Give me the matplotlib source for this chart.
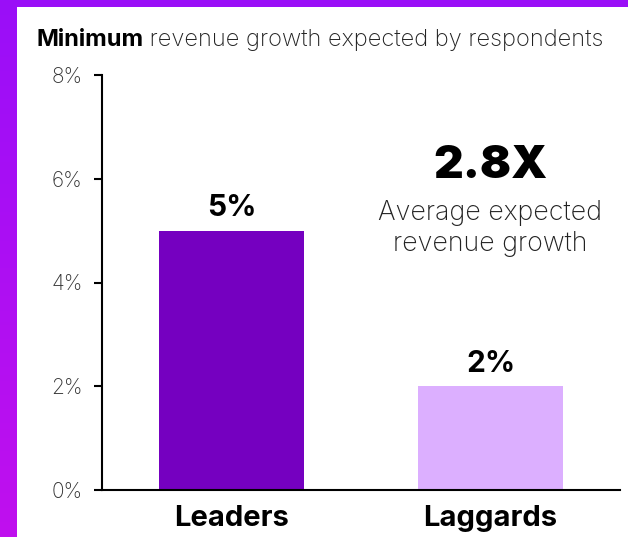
import numpy as np
import matplotlib.pyplot as plt
from matplotlib.patches import Rectangle
from matplotlib.colors import LinearSegmentedColormap

plt.rcParams["font.family"] = ["Inter", "DejaVu Sans"]

groups = ["Leaders", "Laggards"]
growth = [5, 2]
bar_colors = ["#7500C0", "#DCAFFF"]
y_ticks = [0, 2, 4, 6, 8]
multiplier = "2.8X"

W, H = 628, 537
fig = plt.figure(figsize=(W / 100, H / 100), dpi=100)

# purple frame behind the white card
bg = fig.add_axes([0, 0, 1, 1], zorder=-10)
bg.set_axis_off()
cmap = LinearSegmentedColormap.from_list("frame", ["#9A0EF8", "#C010EE"])
grad = np.linspace(0, 1, 256).reshape(-1, 1)
bg.imshow(grad, aspect="auto", cmap=cmap, extent=[0, 1, 0, 1])
bg.add_patch(Rectangle((17 / W, 0), 1, 1 - 7 / H, transform=bg.transAxes,
                       facecolor="white", edgecolor="none"))
bg.set_xlim(0, 1)
bg.set_ylim(0, 1)

ax = fig.add_axes([102 / W, 1 - 490 / H, (620 - 102) / W, (490 - 75) / H])
x = np.arange(len(groups))
bars = ax.bar(x, growth, width=0.56, color=bar_colors)
ax.set_xlim(-0.5, 1.5)
ax.set_ylim(0, 8)
ax.set_yticks(y_ticks)
ax.set_yticklabels([f"{t}%" for t in y_ticks], fontsize=15, color="#333333",
                   fontweight="light")
ax.set_xticks(x)
ax.set_xticklabels(groups, fontsize=21, fontweight="bold", color="black")
ax.tick_params(axis="y", length=6, width=1.5, pad=8)
ax.tick_params(axis="x", length=0, pad=11)
for side in ["top", "right"]:
    ax.spines[side].set_visible(False)
for side in ["left", "bottom"]:
    ax.spines[side].set_linewidth(1.5)
ax.patch.set_alpha(0)

for rect, val in zip(bars, growth):
    ax.annotate(f"{val}%", (rect.get_x() + rect.get_width() / 2, val),
                xytext=(0, 6), textcoords="offset points",
                ha="center", va="bottom", fontsize=21.5, fontweight="bold")

ax.text(1.0, 6.25, multiplier, ha="center", va="center",
        fontsize=33, fontweight="black")
ax.text(1.0, 5.04, "Average expected\nrevenue growth", ha="center", va="center",
        fontsize=19.3, color="#222222", linespacing=1.28, fontweight="light")

# title: bold lead word followed by regular text
renderer = fig.canvas.get_renderer()
lead = fig.text(36 / W, 1 - 40 / H, "Minimum", fontsize=17, fontweight="bold",
                va="center")
bb = lead.get_window_extent(renderer)
fig.text(bb.x1 / W, 1 - 40 / H, " revenue growth expected by respondents",
         fontsize=17, va="center", color="#222222", fontweight="light")

fig.savefig("out.png", dpi=100)
